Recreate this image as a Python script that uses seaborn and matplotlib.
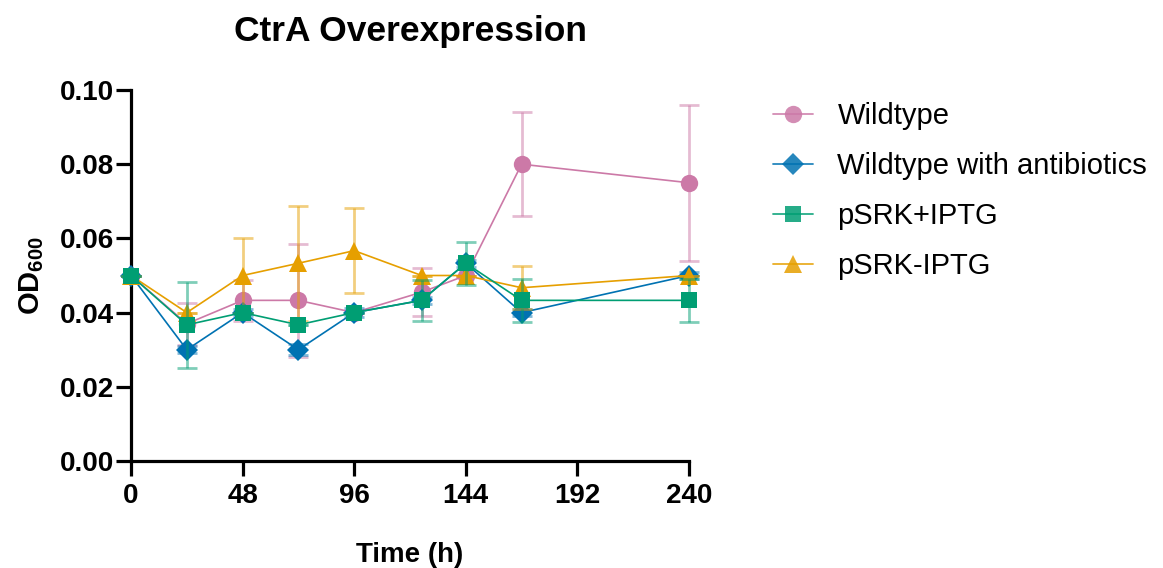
import matplotlib
matplotlib.use("Agg")
import matplotlib.pyplot as plt
import seaborn as sns
import pandas as pd
import numpy as np
from matplotlib.lines import Line2D

# ---- data ----
times = [0, 24, 48, 72, 96, 125, 144, 168, 240]
series_names = ["Wildtype", "Wildtype with antibiotics", "pSRK+IPTG", "pSRK-IPTG"]

wildtype = [0.050, 0.037, 0.0433, 0.0433, 0.040, 0.0455, 0.050, 0.080, 0.075]
wildtype_sd = [0.0, 0.0057, 0.0055, 0.0153, 0.0, 0.0065, 0.0, 0.014, 0.021]

wt_antibiotics = [0.050, 0.030, 0.040, 0.030, 0.040, 0.0433, 0.0533, 0.040, 0.050]
wt_antibiotics_sd = [0.0, 0.001, 0.001, 0.0015, 0.0012, 0.001, 0.001, 0.001, 0.001]

psrk_iptg = [0.050, 0.0367, 0.040, 0.0367, 0.040, 0.0433, 0.0533, 0.0433, 0.0433]
psrk_iptg_sd = [0.0, 0.0115, 0.0, 0.0, 0.0, 0.0055, 0.0058, 0.0058, 0.0058]

psrk_noiptg = [0.050, 0.040, 0.050, 0.0533, 0.0567, 0.050, 0.050, 0.0467, 0.050]
psrk_noiptg_sd = [0.0, 0.0, 0.010, 0.0155, 0.0115, 0.0, 0.0, 0.0058, 0.0]

values = [wildtype, wt_antibiotics, psrk_iptg, psrk_noiptg]
sds = [wildtype_sd, wt_antibiotics_sd, psrk_iptg_sd, psrk_noiptg_sd]
colors = ["#CC79A7", "#0072B2", "#009E73", "#E69F00"]
markers = ["o", "D", "s", "^"]
msizes = [12.5, 11, 11.5, 12.5]
zorders = [3, 4, 6, 5]

xticks = [0, 48, 96, 144, 192, 240]
yticks = [0.00, 0.02, 0.04, 0.06, 0.08, 0.10]

sns.set_style("white")
plt.rcParams["font.family"] = ["Liberation Sans", "DejaVu Sans"]
plt.rcParams["mathtext.fontset"] = "custom"
plt.rcParams["mathtext.rm"] = "Liberation Sans:bold"
plt.rcParams["mathtext.bf"] = "Liberation Sans:bold"
plt.rcParams["text.color"] = "black"
plt.rcParams["axes.labelcolor"] = "black"
plt.rcParams["xtick.color"] = "black"
plt.rcParams["ytick.color"] = "black"

fig = plt.figure(figsize=(11.63, 5.68), dpi=100)
ax = fig.add_axes([131 / 1163, 1 - 461 / 568, (689 - 131) / 1163, (461 - 90) / 568])

for name, v, sd, c, m, ms, z in zip(series_names, values, sds, colors, markers, msizes, zorders):
    df = pd.DataFrame({"Time": times, "OD": v})
    ax.errorbar(times, v, yerr=sd, fmt="none", ecolor=c, alpha=0.5,
                elinewidth=2, capsize=7.5, capthick=2, zorder=z - 0.5, clip_on=False)
    sns.lineplot(data=df, x="Time", y="OD", ax=ax, color=c, marker=m,
                 markersize=ms, markeredgewidth=0, linewidth=1.2,
                 zorder=z, label=name, legend=False)
    ax.lines[-1].set_clip_on(False)

ax.set_xlim(0, 240)
ax.set_ylim(0, 0.10)
ax.set_xticks(xticks)
ax.set_yticks(yticks)
ax.set_yticklabels([f"{t:.2f}" for t in yticks])
ax.set_xticklabels([str(t) for t in xticks])

for side in ["top", "right"]:
    ax.spines[side].set_visible(False)
for side in ["left", "bottom"]:
    ax.spines[side].set_linewidth(2.3)
    ax.spines[side].set_color("black")

ax.tick_params(axis="both", direction="out", length=10.5, width=2.3, color="black",
               bottom=True, left=True, labelsize=20, pad=2)
ax.tick_params(axis="x", pad=5, labelsize=20)
for lab in ax.get_xticklabels() + ax.get_yticklabels():
    lab.set_fontweight("bold")

ax.set_xlabel("Time (h)", fontsize=20, fontweight="bold", labelpad=24)
ax.set_ylabel(r"OD$_{600}$", fontsize=21, fontweight="bold", labelpad=10)
ax.set_title("CtrA Overexpression", fontsize=25.5, fontweight="bold", pad=35)

leg_handles = [Line2D([0], [0], color=c, marker=m, markersize=ms, markeredgewidth=0,
                      linewidth=1.3, alpha=0.85)
               for c, m, ms in zip(colors, markers, msizes)]
fig.legend(leg_handles, series_names, loc="upper left",
           bbox_to_anchor=(747 / 1163, 1 - 76 / 568), frameon=False,
           fontsize=21, handlelength=1.35, handletextpad=0.85, labelspacing=0.75)

fig.savefig("out.png", dpi=100)
